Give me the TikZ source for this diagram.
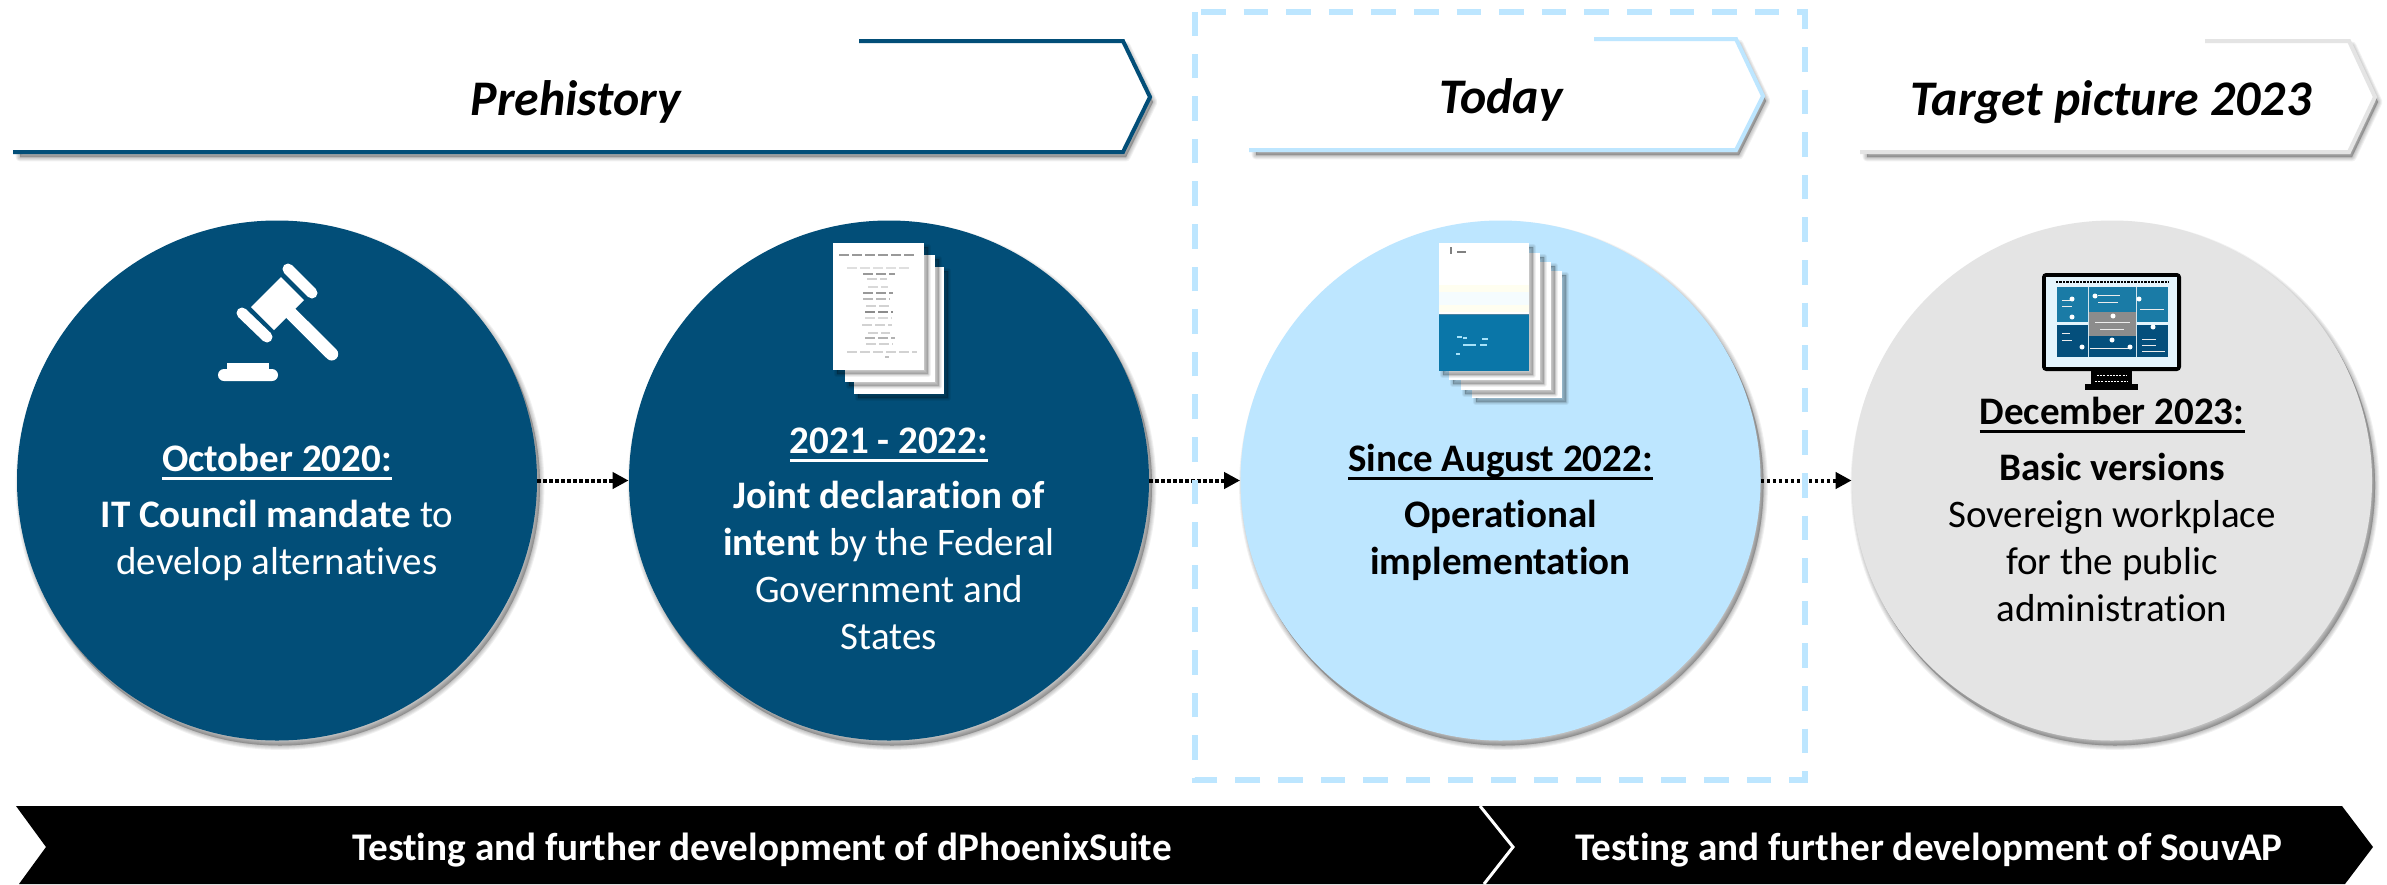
\documentclass[tikz,border=0pt]{standalone}
\usepackage{fontspec}
\setmainfont[Ligatures=NoCommon]{Carlito}
\usetikzlibrary{arrows.meta}
\definecolor{navy}{HTML}{024E78}
\definecolor{skyb}{HTML}{BDE6FF}
\definecolor{greyc}{HTML}{E4E4E4}
\definecolor{pageb}{HTML}{0A76A8}
\definecolor{scrtop}{HTML}{1A7BA6}
\definecolor{scrlow}{HTML}{044F7C}
\definecolor{scrbg}{HTML}{E4F4FC}
\newcommand\ulbl[1]{\leavevmode\setbox0\hbox{#1}\rlap{\rule[-4pt]{\wd0}{1.3pt}}\rule{0pt}{15pt}\box0}
\newcommand\softshadow[2][4]{\foreach \w in {4.4,3.4,2.4,1.4,.5}{\draw[black,opacity=.055,fill=black,line width=\w pt,line join=round,shift={(#1-1,#1+1)}] #2;}}
\newcommand\pageshadow[1]{\foreach \w in {3.2,2.2,1.2,.4}{\draw[black,opacity=.06,fill=black,line width=\w pt,line join=round,shift={(4,4)}] #1;}}
\tikzset{
  x=0.5pt,y=-0.5pt,
  disc/.style={circle,minimum size=260pt,inner sep=0pt,draw=none},
  body/.style={inner sep=0pt,align=center,anchor=north,font=\fontsize{19.5}{23.5}\selectfont},
  banner/.style={inner sep=0pt,anchor=base,font=\fontsize{24.9}{27}\selectfont\bfseries\itshape,text=black},
  bandtext/.style={inner sep=0pt,anchor=base,font=\fontsize{19.6}{23.5}\selectfont\bfseries,text=white},
  conn/.style={line width=2pt,dash pattern=on 1.7pt off 1.3pt,-{Triangle[length=8pt,width=8pt]}},
  bannerline/.style={line width=2pt,miter limit=10},
  boxdash/.style={draw=skyb,line width=2.8pt,dash pattern=on 12.3pt off 9pt,dash phase=18.3pt},
  fakeline/.style={line width=.8pt,draw=#1},
  wicon/.style={draw=white,line cap=round},
  page/.style={fill=white,draw=none},
}
\begin{document}
\begin{tikzpicture}
\useasboundingbox (0,0) rectangle (2387,884);
\fill[white] (0,0) rectangle (2387,884);

% banners
\softshadow[4]{(17,41) -- (1123,41) -- (1150,97) -- (1123,152) -- (17,152) -- cycle}
\fill[white] (13,41) -- (1123,41) -- (1150,97) -- (1123,152) -- (13,152) -- cycle;
\draw[bannerline,navy] (859,41) -- (1123,41) -- (1150,97) -- (1123,152) -- (13,152);
\softshadow[4]{(1253,39) -- (1736,39) -- (1763,96) -- (1736,150) -- (1253,150) -- cycle}
\fill[white] (1249,39) -- (1736,39) -- (1763,96) -- (1736,150) -- (1249,150) -- cycle;
\draw[bannerline,skyb] (1594,39) -- (1736,39) -- (1763,96) -- (1736,150) -- (1249,150);
\softshadow[4]{(1864,41) -- (2349,41) -- (2375,97) -- (2349,152) -- (1864,152) -- cycle}
\fill[white] (1860,41) -- (2349,41) -- (2375,97) -- (2349,152) -- (1860,152) -- cycle;
\draw[bannerline,greyc] (2205,41) -- (2349,41) -- (2375,97) -- (2349,152) -- (1860,152);
\node[banner] (tprehistory) at (576,115) {Prehistory};
\node[banner] (ttoday) at (1501,113) {Today};
\node[banner] (ttarget) at (2111,115) {Target picture 2023};

% circles
\softshadow{(277,480.5) circle [radius=260]}
\softshadow{(889,480.5) circle [radius=260]}
\softshadow{(1500.5,480.5) circle [radius=260]}
\softshadow{(2112,480.5) circle [radius=260]}
\node[disc,fill=navy] (c1) at (277,480.5) {};
\node[disc,fill=navy] (c2) at (889,480.5) {};
\node[disc,fill=skyb] (c3) at (1500.5,480.5) {};
\node[disc,fill=greyc] (c4) at (2112,480.5) {};

% connectors
\draw[conn] (c1) -- (c2);
\draw[conn] (c2) -- (c3);
\draw[conn] (c3) -- (c4);

% dashed frame
\draw[boxdash] (1195,12) -- (1805,12) -- (1805,780) -- (1195,780) -- cycle;

% gavel
\begin{scope}
\fill[white] (251,307) -- (281,277) -- (304,300) -- (274,330) -- cycle;
\draw[wicon,line width=5.5pt] (288,269) -- (312,293);
\draw[wicon,line width=5.5pt] (242,313) -- (267,337);
\draw[wicon,line width=6.5pt] (291.3,313.8) -- (331.7,354);
\fill[white] (227,363) rectangle (269,372);
\fill[white,rounded corners=3pt] (218,369) rectangle (278,381);
\end{scope}

% document stack 2
\pageshadow{(854,267) rectangle (944,394)}
\fill[page] (854,267) rectangle (944,394);
\pageshadow{(845,255) rectangle (935,382)}
\fill[page] (845,255) rectangle (935,382);
\pageshadow{(833,243) rectangle (924,370)}
\fill[page] (833,243) rectangle (924,370);
\foreach \xa/\xb/\yy/\cc in {
 839/915/255/gray!80,847/910/268/gray!25,863/895/274/gray!80,867/887/279/gray!35,
 868/888/287/gray!30,863/893/293/gray!80,863/890/299/gray!55,866/890/306/gray!35,
 865/893/312/gray!90,865/892/318/gray!30,862/892/325/gray!35,868/890/333/gray!35,
 865/895/338/gray!60,866/893/344/gray!35,847/917/352/gray!35,885/889/357/gray!50}
  {\draw[fakeline=\cc,dash pattern=on 5pt off 1.5pt] (\xa,\yy) -- (\xb,\yy);}

% document stack 3
\pageshadow{(1472,271) rectangle (1562,398)}
\fill[page] (1472,271) rectangle (1562,398);
\pageshadow{(1461,262) rectangle (1551,390)}
\fill[page] (1461,262) rectangle (1551,390);
\pageshadow{(1449,253) rectangle (1540,380)}
\fill[page] (1449,253) rectangle (1540,380);
\pageshadow{(1439,243) rectangle (1529,371)}
\fill[page] (1439,243) rectangle (1529,371);
\fill[pageb] (1439,314) rectangle (1529,371);
\fill[yellow!6] (1439,285) rectangle (1529,312);
\fill[cyan!4] (1439,292) rectangle (1529,305);
\draw[navy!70,line width=.5pt] (1439,314) -- (1529,314);
\draw[gray,line width=.8pt] (1451,247) -- (1451,254);
\draw[gray,line width=.7pt] (1457,252) -- (1466,252);
\foreach \xa/\xb/\yy in {1457/1462/337,1463/1467/338,1482/1488/339,1463/1476/345,1480/1487/345,1456/1460/354}
  {\draw[fakeline=cyan!35] (\xa,\yy) -- (\xb,\yy);}

% monitor
\fill[black,rounded corners=2pt] (2042,273) rectangle (2181,371);
\fill[scrbg] (2046,277) rectangle (2177,367);
\fill[black] (2091,371) rectangle (2132,385);
\fill[black] (2085,384) rectangle (2138,390);
\draw[black,line width=.8pt,dash pattern=on 1.2pt off .5pt] (2056,282) -- (2169,282);
\fill[scrtop] (2057,287) rectangle (2168,322);
\fill[scrlow] (2057,325) rectangle (2168,357);
\fill[gray!90] (2088,312) rectangle (2136,336);
\draw[white!80!scrtop,line width=.4pt] (2088,287) -- (2088,357) (2136,287) -- (2136,357);
\foreach \xa/\xb/\yy in {2062/2072/300,2062/2072/306,2098/2120/295,2098/2118/302,2140/2164/309,
  2062/2070/333,2062/2072/340,2090/2130/348,2142/2156/339,2142/2156/345,2142/2165/351,2095/2130/322,2100/2124/329}
  {\draw[white!85!gray,line width=.5pt] (\xa,\yy) -- (\xb,\yy);}
\foreach \xx/\yy in {2072/299,2095/296,2139/299,2072/317,2113/316,2153/327,2112/340,2082/347,2130/347}
  {\fill[white] (\xx,\yy) circle [radius=2.5];}
\draw[white,line width=.4pt,dash pattern=on 1pt off .6pt] (2097,375) -- (2127,375) (2095,381) -- (2128,381);

% circle texts
\node[body,text=white] (t1) at (277,441.5) {\ulbl{\textbf{October 2020:}}\\[4.5pt]\textbf{IT Council mandate} to\\develop alternatives};
\node[body,text=white] (t2) at (889,423.5) {\ulbl{\textbf{2021 - 2022:}}\\[4pt]\textbf{Joint declaration of}\\\textbf{intent} by the Federal\\Government and\\States};
\node[body,text=black] (t3) at (1500.5,441.5) {\ulbl{\textbf{Since August 2022:}}\\[4.5pt]\textbf{Operational}\\\textbf{implementation}};
\node[body,text=black] (t4) at (2112,394.5) {\ulbl{\textbf{December 2023:}}\\[4.5pt]\textbf{Basic versions}\\Sovereign workplace\\for the public\\administration};

% bottom band
\fill[black] (16,806) -- (2342,806) -- (2373,847) -- (2345,884) -- (19,884) -- (46,847) -- cycle;
\draw[white,line width=1.5pt] (1480,806) -- (1513,847) -- (1484,884);
\node[bandtext] (b1) at (762,860) {Testing and further development of dPhoenixSuite};
\node[bandtext] (b2) at (1929,860) {Testing and further development of SouvAP};
\end{tikzpicture}
\end{document}
